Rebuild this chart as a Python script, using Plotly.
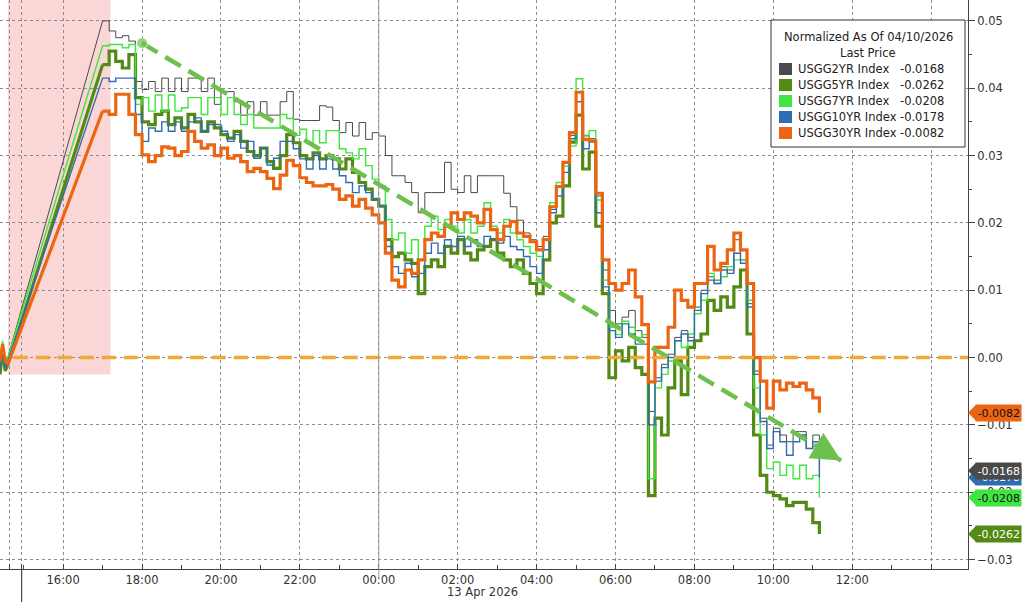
import plotly.graph_objects as go
import pandas as pd

# ---------------- data ----------------
pre_times = ["2026-04-12 14:24", "2026-04-12 14:28", "2026-04-12 14:32", "2026-04-12 14:36"]
times = pd.date_range("2026-04-12 17:00", "2026-04-13 11:10", freq="10min")

names = ["USGG2YR Index", "USGG5YR Index", "USGG7YR Index", "USGG10YR Index", "USGG30YR Index"]
colors = ["#4A4A4A", "#538A14", "#3FE63F", "#2F6DB2", "#EC6512"]
widths = [1.0, 3.2, 1.4, 1.4, 3.2]

pre_2yr = [-0.0010, 0.0020, -0.0005, 0.0000]
pre_5yr = [-0.0025, 0.0010, -0.0020, -0.0010]
pre_7yr = [-0.0015, 0.0025, -0.0010, 0.0000]
pre_10yr = [-0.0020, 0.0015, -0.0015, -0.0005]
pre_30yr = [-0.0005, 0.0020, -0.0005, -0.0010]

usgg2yr = [0.0500, 0.0485, 0.0475, 0.0478, 0.0470, 0.0410, 0.0398, 0.0410, 0.0395, 0.0415,
           0.0395, 0.0415, 0.0395, 0.0415, 0.0415, 0.0395, 0.0415, 0.0376, 0.0395, 0.0395,
           0.0380, 0.0360, 0.0380, 0.0360, 0.0380, 0.0360, 0.0360, 0.0380, 0.0395, 0.0354,
           0.0352, 0.0352, 0.0352, 0.0374, 0.0372, 0.0352, 0.0334, 0.0349, 0.0329, 0.0349,
           0.0324, 0.0334, 0.0329, 0.0300, 0.0270, 0.0270, 0.0260, 0.0245, 0.0215, 0.0245,
           0.0245, 0.0245, 0.0290, 0.0250, 0.0245, 0.0270, 0.0245, 0.0270, 0.0270, 0.0270,
           0.0270, 0.0244, 0.0224, 0.0204, 0.0185, 0.0175, 0.0165, 0.0180, 0.0220, 0.0255,
           0.0290, 0.0330, 0.0395, 0.0330, 0.0325, 0.0240, 0.0130, 0.0070, 0.0050, 0.0060,
           0.0070, 0.0040, 0.0030, -0.0080, -0.0030, -0.0010, 0.0005, 0.0030, 0.0040, 0.0030,
           0.0075, 0.0100, 0.0120, 0.0115, 0.0135, 0.0130, 0.0175, 0.0145, 0.0080, -0.0020,
           -0.0090, -0.0130, -0.0105, -0.0115, -0.0125, -0.0110, -0.0110, -0.0135, -0.0115, -0.0168]

usgg5yr = [0.0435, 0.0455, 0.0440, 0.0430, 0.0450, 0.0386, 0.0350, 0.0346, 0.0361, 0.0366,
           0.0346, 0.0356, 0.0341, 0.0361, 0.0350, 0.0336, 0.0350, 0.0341, 0.0331, 0.0326,
           0.0336, 0.0321, 0.0306, 0.0300, 0.0311, 0.0291, 0.0281, 0.0300, 0.0331, 0.0319,
           0.0300, 0.0295, 0.0304, 0.0295, 0.0300, 0.0295, 0.0280, 0.0295, 0.0275, 0.0260,
           0.0250, 0.0235, 0.0225, 0.0175, 0.0150, 0.0155, 0.0145, 0.0140, 0.0095, 0.0135,
           0.0145, 0.0135, 0.0165, 0.0155, 0.0175, 0.0155, 0.0145, 0.0160, 0.0165, 0.0175,
           0.0155, 0.0145, 0.0135, 0.0145, 0.0125, 0.0110, 0.0095, 0.0145, 0.0200, 0.0210,
           0.0255, 0.0320, 0.0360, 0.0280, 0.0305, 0.0195, 0.0095, -0.0030, 0.0010, -0.0005,
           0.0015, -0.0015, -0.0025, -0.0205, -0.0090, -0.0115, -0.0045, -0.0005, -0.0055, 0.0015,
           0.0025, 0.0035, 0.0085, 0.0070, 0.0090, 0.0075, 0.0105, 0.0130, 0.0035, -0.0115,
           -0.0175, -0.0200, -0.0205, -0.0210, -0.0220, -0.0215, -0.0215, -0.0225, -0.0245, -0.0262]

usgg7yr = [0.0463, 0.0465, 0.0465, 0.0460, 0.0465, 0.0376, 0.0386, 0.0366, 0.0390, 0.0366,
           0.0390, 0.0366, 0.0371, 0.0386, 0.0386, 0.0361, 0.0386, 0.0386, 0.0361, 0.0386,
           0.0361, 0.0346, 0.0361, 0.0341, 0.0341, 0.0341, 0.0341, 0.0361, 0.0355, 0.0330,
           0.0339, 0.0319, 0.0337, 0.0319, 0.0337, 0.0337, 0.0310, 0.0304, 0.0295, 0.0310,
           0.0285, 0.0265, 0.0255, 0.0205, 0.0175, 0.0185, 0.0155, 0.0175, 0.0145, 0.0195,
           0.0210, 0.0190, 0.0205, 0.0195, 0.0185, 0.0205, 0.0185, 0.0195, 0.0230, 0.0195,
           0.0185, 0.0205, 0.0185, 0.0175, 0.0165, 0.0155, 0.0150, 0.0175, 0.0230, 0.0260,
           0.0284, 0.0314, 0.0414, 0.0329, 0.0337, 0.0234, 0.0115, 0.0045, 0.0034, 0.0054,
           0.0045, 0.0030, 0.0034, -0.0180, -0.0045, -0.0025, -0.0005, 0.0025, 0.0015, 0.0035,
           0.0065, 0.0085, 0.0125, 0.0110, 0.0120, 0.0135, 0.0145, 0.0145, 0.0085, -0.0045,
           -0.0115, -0.0165, -0.0155, -0.0175, -0.0160, -0.0180, -0.0160, -0.0180, -0.0175, -0.0208]

usgg10yr = [0.0415, 0.0410, 0.0415, 0.0415, 0.0415, 0.0361, 0.0321, 0.0341, 0.0336, 0.0350,
            0.0336, 0.0350, 0.0336, 0.0350, 0.0356, 0.0336, 0.0346, 0.0346, 0.0336, 0.0321,
            0.0331, 0.0311, 0.0321, 0.0296, 0.0311, 0.0286, 0.0296, 0.0321, 0.0321, 0.0310,
            0.0295, 0.0280, 0.0300, 0.0280, 0.0295, 0.0280, 0.0270, 0.0260, 0.0245, 0.0255,
            0.0245, 0.0235, 0.0225, 0.0165, 0.0135, 0.0125, 0.0140, 0.0120, 0.0125, 0.0155,
            0.0170, 0.0155, 0.0175, 0.0165, 0.0180, 0.0165, 0.0175, 0.0165, 0.0180, 0.0175,
            0.0170, 0.0180, 0.0165, 0.0160, 0.0150, 0.0135, 0.0125, 0.0160, 0.0215, 0.0240,
            0.0275, 0.0325, 0.0380, 0.0310, 0.0320, 0.0215, 0.0105, 0.0040, 0.0030, 0.0050,
            0.0035, 0.0020, 0.0020, -0.0100, -0.0035, -0.0015, 0.0000, 0.0025, 0.0035, 0.0025,
            0.0070, 0.0095, 0.0115, 0.0110, 0.0130, 0.0125, 0.0155, 0.0140, 0.0075, -0.0025,
            -0.0095, -0.0135, -0.0110, -0.0125, -0.0145, -0.0125, -0.0115, -0.0135, -0.0125, -0.0178]

usgg30yr = [0.0366, 0.0361, 0.0391, 0.0391, 0.0361, 0.0331, 0.0301, 0.0291, 0.0300, 0.0313,
            0.0311, 0.0300, 0.0306, 0.0336, 0.0321, 0.0311, 0.0316, 0.0300, 0.0311, 0.0296,
            0.0300, 0.0291, 0.0276, 0.0281, 0.0276, 0.0266, 0.0251, 0.0271, 0.0293, 0.0285,
            0.0267, 0.0260, 0.0255, 0.0255, 0.0257, 0.0250, 0.0235, 0.0240, 0.0225, 0.0235,
            0.0222, 0.0212, 0.0200, 0.0155, 0.0115, 0.0105, 0.0130, 0.0125, 0.0145, 0.0175,
            0.0185, 0.0180, 0.0195, 0.0215, 0.0205, 0.0215, 0.0210, 0.0200, 0.0220, 0.0190,
            0.0175, 0.0195, 0.0202, 0.0185, 0.0180, 0.0172, 0.0160, 0.0175, 0.0224, 0.0254,
            0.0290, 0.0334, 0.0394, 0.0324, 0.0322, 0.0244, 0.0145, 0.0110, 0.0100, 0.0110,
            0.0130, 0.0090, 0.0049, -0.0036, 0.0015, 0.0015, 0.0045, 0.0100, 0.0085, 0.0075,
            0.0110, 0.0110, 0.0165, 0.0130, 0.0140, 0.0160, 0.0185, 0.0160, 0.0110, 0.0000,
            -0.0035, -0.0075, -0.0035, -0.0048, -0.0038, -0.0043, -0.0038, -0.0048, -0.0060, -0.0082]

series = [usgg2yr, usgg5yr, usgg7yr, usgg10yr, usgg30yr]
pre_series = [pre_2yr, pre_5yr, pre_7yr, pre_10yr, pre_30yr]

tick_times = ["2026-04-12 14:38", "2026-04-12 14:57"] + [str(t) for t in pd.date_range("2026-04-12 16:00", "2026-04-13 14:00", freq="2h")]
tick_labels = ["", ""] + [pd.Timestamp(t).strftime("%H:%M") for t in pd.date_range("2026-04-12 16:00", "2026-04-13 12:00", freq="2h")] + [""]

trend_x = ["2026-04-12 18:00", "2026-04-13 11:43"]
trend_y = [0.0467, -0.0153]
shade_x = ["2026-04-12 14:36", "2026-04-12 17:12"]
shade_y = [-0.0025, 0.0531]
x_range = ["2026-04-12 14:24", "2026-04-13 14:56"]
y_range = [-0.0314, 0.0531]
y_ticks = [0.05, 0.04, 0.03, 0.02, 0.01, 0.0, -0.01, -0.02, -0.03]

# ---------------- figure ----------------
W, H = 1024, 602
L, R, T, B = 0, 56, 0, 33
PW, PH = W - L - R, H - T - B
FONT = "DejaVu Sans"


def xp(px):
    return (px - L) / PW


def yp(py):
    return 1 - (py - T) / PH


fig = go.Figure()

for name, col, w, pre, vals in zip(names, colors, widths, pre_series, series):
    fig.add_trace(go.Scatter(x=pre_times + [times[0]], y=pre + [vals[0]], mode="lines",
                             line=dict(color=col, width=w), showlegend=False, hoverinfo="skip"))
for name, col, w, vals in zip(names, colors, widths, series):
    fig.add_trace(go.Scatter(x=times, y=vals, mode="lines", name=name,
                             line=dict(color=col, width=w, shape="hv"), showlegend=False))

# trend arrow
fig.add_trace(go.Scatter(x=trend_x, y=trend_y, mode="lines+markers",
                         line=dict(color="#6DC04C", width=4.5, dash="18px,9px"),
                         marker=dict(size=[11, 0], color="#6DC04C"),
                         showlegend=False, hoverinfo="skip"))

shapes = []
annotations = []

shapes.append(dict(type="rect", xref="x", yref="y", x0=shade_x[0], x1=shade_x[1],
                   y0=shade_y[0], y1=shade_y[1], fillcolor="rgba(240,120,120,0.30)",
                   line=dict(width=0), layer="below"))
shapes.append(dict(type="line", xref="x", yref="y", x0="2026-04-12 14:45", x1=x_range[1],
                   y0=0, y1=0, line=dict(color="#F1A834", width=3.5, dash="14px,8px")))
shapes.append(dict(type="line", xref="x", yref="paper", x0="2026-04-13 00:00", x1="2026-04-13 00:00",
                   y0=-0.015, y1=1, line=dict(color="#9A9A9A", width=1)))
shapes.append(dict(type="line", xref="x", yref="paper", x0="2026-04-12 14:57", x1="2026-04-12 14:57",
                   y0=-0.06, y1=0, line=dict(color="#222222", width=1)))

annotations.append(dict(x=trend_x[1], y=trend_y[1], xref="x", yref="y", ax=-21, ay=-12.5,
                        showarrow=True, arrowhead=2, arrowsize=1.3, arrowwidth=4.5,
                        arrowcolor="#6DC04C", text=""))

annotations.append(dict(x=xp(482), y=yp(592), xref="paper", yref="paper", text="13 Apr 2026",
                        xanchor="center", yanchor="middle",
                        showarrow=False, font=dict(size=11.5, color="#333333")))

# legend box
lx0, lx1, ly0, ly1 = 771, 965, 20, 147
shapes.append(dict(type="rect", xref="paper", yref="paper", x0=xp(lx0), x1=xp(lx1),
                   y0=yp(ly1), y1=yp(ly0), fillcolor="white", line=dict(color="#333333", width=1)))
annotations.append(dict(x=xp(868), y=yp(37), xref="paper", yref="paper", text="Normalized As Of 04/10/2026",
                        xanchor="center", yanchor="middle",
                        showarrow=False, font=dict(size=11.5, color="#222222")))
annotations.append(dict(x=xp(868), y=yp(53), xref="paper", yref="paper", text="Last Price",
                        xanchor="center", yanchor="middle",
                        showarrow=False, font=dict(size=11.5, color="#222222")))
row_y = [69, 85, 101, 117, 133]
for name, col, vals, ry in zip(names, colors, series, row_y):
    shapes.append(dict(type="rect", xref="paper", yref="paper", x0=xp(779), x1=xp(792),
                       y0=yp(ry + 6), y1=yp(ry - 6), fillcolor=col, line=dict(width=0)))
    annotations.append(dict(x=xp(796), y=yp(ry), xref="paper", yref="paper", text=name,
                            xanchor="left", yanchor="middle", showarrow=False,
                            font=dict(size=11.5, color="#222222")))
    annotations.append(dict(x=xp(946), y=yp(ry), xref="paper", yref="paper", text=f"{vals[-1]:.4f}",
                            xanchor="right", yanchor="middle", showarrow=False,
                            font=dict(size=11.5, color="#222222")))

# right-side last value tags
tag_text_col = ["white", "white", "#111111", "white", "#111111"]
order = [3, 4, 0, 2, 1]
half = 8 / PH * (y_range[1] - y_range[0])
for i in order:
    v = series[i][-1]
    xt, xb = xp(968), xp(976)
    shapes.append(dict(type="path", xref="paper", yref="y",
                       path=f"M {xt},{v} L {xb},{v + half} L {xb},{v - half} Z",
                       fillcolor=colors[i], line=dict(width=0)))
    annotations.append(dict(x=xp(975), y=v, xref="paper", yref="y", xanchor="left", yanchor="middle",
                            text=f"{v:.4f}", showarrow=False, bgcolor=colors[i], borderpad=1.5,
                            font=dict(size=11, color=tag_text_col[i])))

fig.update_layout(
    width=W, height=H, margin=dict(l=L, r=R, t=T, b=B),
    paper_bgcolor="white", plot_bgcolor="white",
    font=dict(family=FONT, size=11.5, color="#333333"),
    showlegend=False, shapes=shapes, annotations=annotations,
    xaxis=dict(type="date", range=x_range, tickvals=tick_times, ticktext=tick_labels,
               showgrid=True, gridcolor="#8C8C8C", griddash="dot", gridwidth=1,
               showline=True, linecolor="#444444", linewidth=1,
               ticks="inside", ticklen=5, tickcolor="#444444",
               minor=dict(dtick=3600000, ticks="inside", ticklen=4, tickcolor="#444444", showgrid=False),
               zeroline=False, tickfont=dict(size=11.5, color="#333333")),
    yaxis=dict(side="right", range=y_range, tickvals=y_ticks, tickformat=".2f",
               showgrid=True, gridcolor="#8C8C8C", griddash="dot", gridwidth=1,
               showline=True, linecolor="#444444", linewidth=1,
               ticks="outside", ticklen=6, tickcolor="#444444",
               minor=dict(dtick=0.005, ticks="outside", ticklen=3, tickcolor="#444444", showgrid=False),
               zeroline=False, tickfont=dict(size=11.5, color="#333333")),
)

fig.write_html("out.html", config={"displayModeBar": False},
               post_script="document.body.style.margin='0px';document.body.style.overflow='hidden';")
